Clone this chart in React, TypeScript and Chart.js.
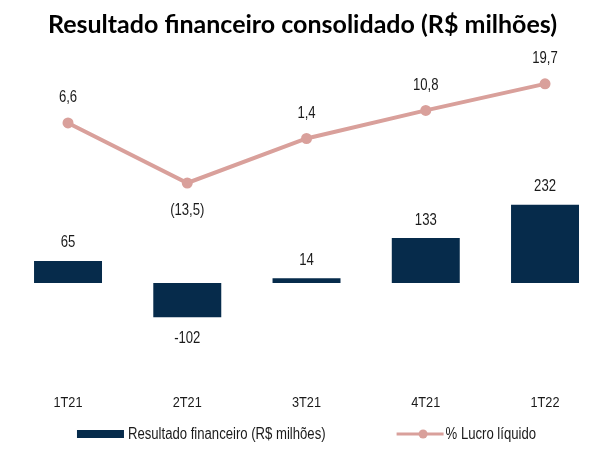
import React, { useEffect, useRef } from "react";
import { Chart, registerables } from "chart.js";

Chart.register(...registerables);

const categories = ["1T21", "2T21", "3T21", "4T21", "1T22"];
const resultadoFinanceiro = [65, -102, 14, 133, 232];
const lucroLiquidoPct = [6.6, -13.5, 1.4, 10.8, 19.7];
const titleText = "Resultado financeiro consolidado (R$ milhões)";
const barLabel = "Resultado financeiro (R$ milhões)";
const lineLabel = "% Lucro líquido";

const BAR_COLOR = "#062b4b";
const LINE_COLOR = "#d9a09b";
const TEXT_COLOR = "#1a1a1a";
const SANS = "'Liberation Sans', Arial, sans-serif";
const NARROW_SCALE = 0.82;

const fmtPct = (v: number) => {
  const s = Math.abs(v).toFixed(1).replace(".", ",");
  return v < 0 ? `(${s})` : s;
};

// draws condensed (Arial Narrow–like) text
function narrowText(ctx: CanvasRenderingContext2D, text: string, x: number, y: number, size: number, align: CanvasTextAlign) {
  ctx.save();
  ctx.font = `${size}px ${SANS}`;
  ctx.textAlign = align;
  ctx.textBaseline = "middle";
  ctx.translate(x, y);
  ctx.scale(NARROW_SCALE, 1);
  ctx.fillText(text, 0, 0);
  ctx.restore();
}
function narrowWidth(ctx: CanvasRenderingContext2D, text: string, size: number) {
  ctx.save();
  ctx.font = `${size}px ${SANS}`;
  const w = ctx.measureText(text).width * NARROW_SCALE;
  ctx.restore();
  return w;
}

// let the category axis span to the canvas' right edge
const stretchX = {
  id: "stretchX",
  afterLayout(chart: any) {
    const xs = chart.scales.x;
    xs.right = chart.width - 0.35;
    xs.width = xs.right - xs.left;
    xs.configure();
  },
};

const valueLabels = {
  id: "valueLabels",
  afterDatasetsDraw(chart: any) {
    const ctx = chart.ctx;
    ctx.save();
    ctx.fillStyle = TEXT_COLOR;
    chart.data.datasets.forEach((ds: any, di: number) => {
      const meta = chart.getDatasetMeta(di);
      meta.data.forEach((el: any, i: number) => {
        const v = ds.data[i] as number;
        if (ds.type === "bar") {
          const y = v >= 0 ? el.y - 18 : el.y + 21;
          narrowText(ctx, String(v), el.x, y, 16, "center");
        } else {
          const y = v >= 0 ? el.y - 25 : el.y + 28;
          narrowText(ctx, fmtPct(v), el.x, y, 16, "center");
        }
      });
    });
    ctx.restore();
  },
};

const xLabels = {
  id: "xLabels",
  afterDraw(chart: any) {
    const ctx = chart.ctx;
    const xs = chart.scales.x;
    ctx.save();
    ctx.fillStyle = TEXT_COLOR;
    (chart.data.labels as string[]).forEach((lab, i) => {
      narrowText(ctx, lab, xs.getPixelForTick(i), chart.chartArea.bottom + 25, 15.5, "center");
    });
    ctx.restore();
  },
};

const customLegend = {
  id: "customLegend",
  afterDraw(chart: any) {
    const ctx = chart.ctx;
    ctx.save();
    const fs = 16;
    const tw1 = narrowWidth(ctx, barLabel, fs);
    const tw2 = narrowWidth(ctx, lineLabel, fs);
    const sw = 47;
    const gap = 4;
    const between = 71;
    const total = sw + gap + tw1 + between + sw + 2 + tw2;
    let x = chart.width / 2 + 4 - total / 2;
    const y = chart.height - 17;
    ctx.fillStyle = BAR_COLOR;
    ctx.fillRect(x, y - 4, sw, 8);
    x += sw + gap;
    ctx.fillStyle = TEXT_COLOR;
    narrowText(ctx, barLabel, x, y + 1, fs, "left");
    x += tw1 + between;
    ctx.strokeStyle = LINE_COLOR;
    ctx.lineWidth = 3;
    ctx.beginPath();
    ctx.moveTo(x, y);
    ctx.lineTo(x + sw, y);
    ctx.stroke();
    ctx.fillStyle = LINE_COLOR;
    ctx.beginPath();
    ctx.arc(x + sw / 2 + 3, y, 4.5, 0, Math.PI * 2);
    ctx.fill();
    x += sw + 2;
    ctx.fillStyle = TEXT_COLOR;
    narrowText(ctx, lineLabel, x, y + 1, fs, "left");
    ctx.restore();
  },
};

export default function App() {
  const ref = useRef<HTMLCanvasElement | null>(null);
  useEffect(() => {
    if (!ref.current) return;
    const chart = new Chart(ref.current, {
      type: "bar",
      data: {
        labels: categories,
        datasets: [
          {
            type: "line",
            label: lineLabel,
            data: lucroLiquidoPct,
            yAxisID: "yLine",
            borderColor: LINE_COLOR,
            backgroundColor: LINE_COLOR,
            borderWidth: 4,
            pointRadius: 5.5,
            pointBackgroundColor: LINE_COLOR,
            pointBorderWidth: 0,
            tension: 0,
            order: 0,
          } as any,
          {
            type: "bar",
            label: barLabel,
            data: resultadoFinanceiro,
            yAxisID: "yBar",
            backgroundColor: BAR_COLOR,
            barPercentage: 0.57,
            categoryPercentage: 1,
            order: 1,
          } as any,
        ],
      },
      options: {
        animation: false,
        responsive: false,
        devicePixelRatio: 1,
        layout: { padding: { left: 8.4, right: 8.4, top: 0, bottom: 27 } },
        plugins: {
          legend: { display: false },
          tooltip: { enabled: false },
          title: {
            display: true,
            text: titleText,
            color: "#000",
            font: { family: "Lato, 'Open Sans', sans-serif", weight: "bold", size: 25 },
            padding: { top: 10, bottom: 8 },
          },
        },
        scales: {
          x: {
            grid: { display: false },
            border: { display: false },
            ticks: {
              color: "rgba(0,0,0,0)",
              font: { family: SANS, size: 15 },
              padding: 10,
            },
          },
          yBar: { display: false, min: -282, max: 697 },
          yLine: { display: false, min: -78.8, max: 31.7 },
        },
      },
      plugins: [stretchX, valueLabels, xLabels, customLegend],
    });
    return () => chart.destroy();
  }, []);
  return (
    <div style={{ position: "fixed", left: 0, top: 0, width: 601, height: 451, overflow: "hidden", background: "#fff" }}>
      <canvas ref={ref} width={605} height={451} />
    </div>
  );
}
